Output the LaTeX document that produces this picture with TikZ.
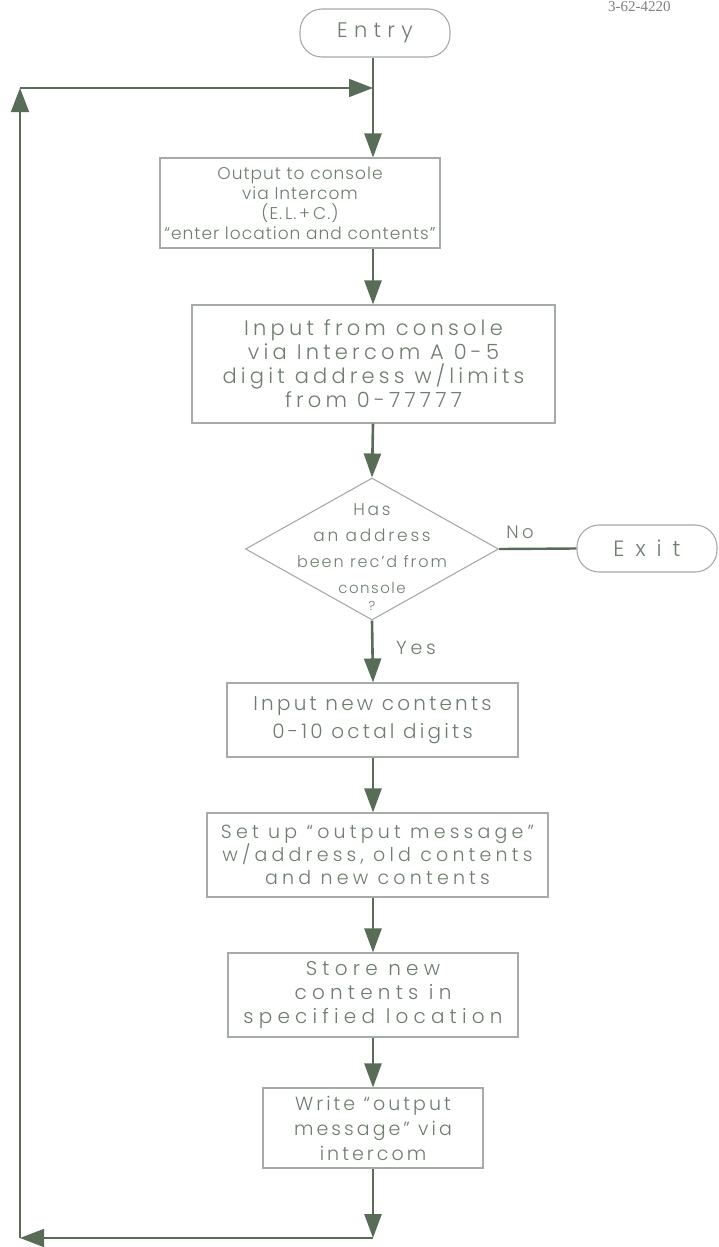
\documentclass[tikz,border=0pt]{standalone}
\usepackage{fontspec}
\setmainfont{Poppins}[UprightFont=* Light, LetterSpace=12]
\newfontfamily\refserif{Liberation Serif}
\usetikzlibrary{arrows.meta,shapes.geometric}
\definecolor{ln}{RGB}{88,108,88}
\definecolor{tx}{RGB}{110,125,110}
\definecolor{bx}{RGB}{165,172,165}
\newcommand{\ls}[1]{\addfontfeature{LetterSpace=#1}}
\begin{document}
\begin{tikzpicture}[x=1pt,y=-1pt,
  box/.style={draw=bx, line width=1.1pt, text=tx, align=center, inner sep=0pt},
  term/.style={box, rounded corners=22pt},
  dia/.style={draw=bx, line width=1.1pt, diamond, inner sep=0pt},
  txt/.style={text=tx, align=center, inner sep=0pt},
  flow/.style={draw=ln, line width=2.6pt, -{Triangle[length=24pt,width=17pt]}},
  loopa/.style={draw=ln, line width=1.6pt, -{Triangle[length=24pt,width=18pt]}},
  plain/.style={draw=ln, line width=2.4pt}]
\useasboundingbox (0,0) rectangle (718,1247);
\fill[white] (0,0) rectangle (718,1247);

\node[txt, anchor=base west, font=\refserif\fontsize{15}{15}\selectfont, text=gray] (ref) at (608,12) {3-62-4220};

\node[term, minimum width=150pt, minimum height=48pt, font=\fontsize{21}{22}\selectfont\ls{30}] (entry) at (375,33) {Entry};

\node[box, minimum width=280pt, minimum height=90pt, font=\fontsize{17}{20}\selectfont\ls{6}] (b1) at (300,203)
  {Output to console\\ via Intercom\\ (E.\,L.\,+\,C.)\\ ``enter location and contents''};

\node[box, minimum width=363pt, minimum height=118pt, font=\fontsize{21}{24}\selectfont\ls{20}] (b2) at (373.5,364)
  {Input from console\\ via Intercom A 0-5\\ digit address w/limits\\ from 0-77777};

\node[dia, minimum width=253pt, minimum height=142pt] (d) at (372,549) {};
\node[txt, font=\fontsize{17}{26}\selectfont\ls{16}] (dt) at (372,557)
  {Has\\ an address\\ {\fontsize{16}{26}\selectfont\ls{12} been rec'd from}\\ {\fontsize{15}{17}\selectfont\ls{10} console}\\[-9pt] {\fontsize{13}{14}\selectfont ?}};

\node[term, minimum width=140pt, minimum height=47pt, font=\fontsize{22}{22}\selectfont\ls{50}] (exit) at (647,548.5) {Exit};

\node[box, minimum width=291pt, minimum height=74pt, font=\fontsize{20}{28}\selectfont\ls{16}] (b3) at (372.5,720)
  {Input new contents\\ 0-10 octal digits};

\node[box, minimum width=341pt, minimum height=84pt, font=\fontsize{19}{23}\selectfont\ls{22}] (b4) at (377.5,855)
  {Set up ``output message''\\ w/address, old contents\\ and new contents};

\node[box, minimum width=290pt, minimum height=84pt, font=\fontsize{20}{24}\selectfont\ls{26}] (b5) at (373,995)
  {Store new\\ contents in\\ specified location};

\node[box, minimum width=220pt, minimum height=80pt, font=\fontsize{19}{25}\selectfont\ls{16}] (b6) at (373,1128)
  {Write ``output\\ message'' via\\ intercom};

\node[txt, font=\fontsize{18}{18}\selectfont\ls{20}] (no) at (520,532) {No};
\node[txt, font=\fontsize{19}{19}\selectfont\ls{20}] (yes) at (416,648) {Yes};

\coordinate (jt) at (373,88);
\coordinate (tl) at (20,88);
\coordinate (bl) at (20,1238);
\coordinate (br) at (373,1238);

\draw[flow] (entry.south -| jt) -- (b1.north -| jt);
\draw[flow] (b1.south -| jt) -- (b2.north -| jt);
\draw[flow] (b2.south -| jt) -- (d.north);
\draw[plain] (d.east) -- (exit.west);
\draw[flow] (d.south) -- (b3.north -| jt);
\draw[flow] (b3.south -| jt) -- (b4.north -| jt);
\draw[flow] (b4.south -| jt) -- (b5.north -| jt);
\draw[flow] (b5.south -| jt) -- (b6.north -| jt);
\draw[flow] (b6.south -| jt) -- (br);
\draw[loopa] (br) -- (bl);
\draw[loopa] (bl) -- (tl);
\draw[loopa] (tl) -- (jt);
\end{tikzpicture}
\end{document}
